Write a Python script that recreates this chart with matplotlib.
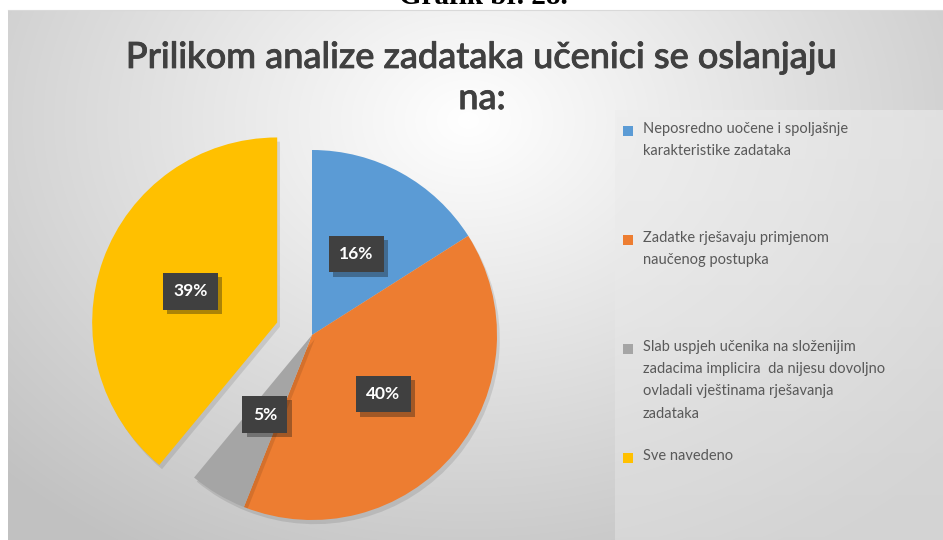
import numpy as np
import matplotlib
matplotlib.use("Agg")
import matplotlib.pyplot as plt
import matplotlib.patheffects as pe

title = "Prilikom analize zadataka učenici se oslanjaju\nna:"
caption = "Grafik br. 28."
labels = [
    "Neposredno uočene i spoljašnje\nkarakteristike zadataka",
    "Zadatke rješavaju primjenom\nnaučenog postupka",
    "Slab uspjeh učenika na složenijim\nzadacima implicira  da nijesu dovoljno\novladali vještinama rješavanja\nzadataka",
    "Sve navedeno",
]
values = [16, 40, 5, 39]
colors = ["#5B9BD5", "#ED7D31", "#A5A5A5", "#FFC000"]
explode = [0, 0, 0, 0.2]

W, H = 943, 540
fig = plt.figure(figsize=(W / 100, H / 100), dpi=100)
fig.patch.set_facecolor("white")

# background gradient (chart area)
bg = fig.add_axes([8 / W, 0, (W - 8) / W, (H - 10) / H])
bg.set_axis_off()
yy, xx = np.mgrid[0:530, 0:935]
d = np.sqrt(((xx - 460) / 650.0) ** 2 + ((yy - 110) / 500.0) ** 2)
shade = np.clip(1.0 - 0.24 * d, 0.76, 1.0)
img = np.dstack([shade, shade, shade])
bg.imshow(img, aspect="auto", extent=[0, 1, 0, 1], origin="upper")
bg.set_xlim(0, 1)
bg.set_ylim(0, 1)

# legend panel
lg = fig.add_axes([615 / W, 0, (W - 615) / W, (H - 110) / H])
lg.set_axis_off()
ly = np.linspace(0, 1, 200)[:, None]
lshade = np.clip(0.93 - 0.04 * ly + 0 * np.linspace(0, 1, 200)[None, :], 0, 1)
limg = np.dstack([lshade, lshade, lshade])
lg.imshow(limg, aspect="auto", extent=[0, 1, 0, 1], origin="upper", alpha=0.55)
lg.set_xlim(0, 1)
lg.set_ylim(0, 1)

# caption (cut off at top, as in the source)
fig.text(483 / W, 1 - 4 / H, caption, ha="center", va="baseline",
         fontsize=21, fontweight="bold", family="Liberation Serif", color="black")
fig.add_artist(plt.Line2D([8 / W, 1], [1 - 10 / H, 1 - 10 / H], color="#d9d9d9", lw=0.8))

# title
fig.text(482 / W, 1 - 78 / H, title, ha="center", va="center", fontsize=26,
         family="Lato", fontweight="medium", color="#404040", linespacing=1.3,
         path_effects=[pe.withStroke(linewidth=0.6, foreground="#404040")])

# pie
R = 185.0
cx, cy = 312.0, 335.0
half = 260.0
ax = fig.add_axes([(cx - half) / W, (H - cy - half) / H, 2 * half / W, 2 * half / H])
ax.set_axis_off()
wedges, texts, autotexts = ax.pie(
    values, colors=colors, explode=explode, startangle=90, counterclock=False,
    radius=1.0, autopct="%d%%", pctdistance=0.5,
    wedgeprops=dict(linewidth=0),
    textprops=dict(color="white", fontsize=12.5, fontweight="bold", family="Lato"),
)
lim = half / R
ax.set_xlim(-lim, lim)
ax.set_ylim(-lim, lim)
ax.set_aspect("equal")
for w in wedges:
    w.set_path_effects([pe.SimplePatchShadow(offset=(2, -3), alpha=0.1, shadow_rgbFace="black"), pe.Normal()])
for t in autotexts:
    t.set_bbox(dict(boxstyle="square,pad=0.6", facecolor="#404040", edgecolor="none"))
    t.get_bbox_patch().set_path_effects([pe.SimplePatchShadow(offset=(3, -3), alpha=0.35), pe.Normal()])

# legend (manual)
x_mark = 623
x_text = 643
y0 = 131
step = 109
for i, (lab, col) in enumerate(zip(labels, colors)):
    y = y0 + step * i
    fig.patches.append(plt.Rectangle((x_mark / W, 1 - (y + 5) / H), 10 / W, 10 / H,
                                     transform=fig.transFigure, facecolor=col, edgecolor="none"))
    fig.text(x_text / W, 1 - (y - 9) / H, lab, ha="left", va="top", fontsize=10.5,
             family="Lato", color="#595959", linespacing=1.75)

fig.savefig("out.png", dpi=100, facecolor="white")
